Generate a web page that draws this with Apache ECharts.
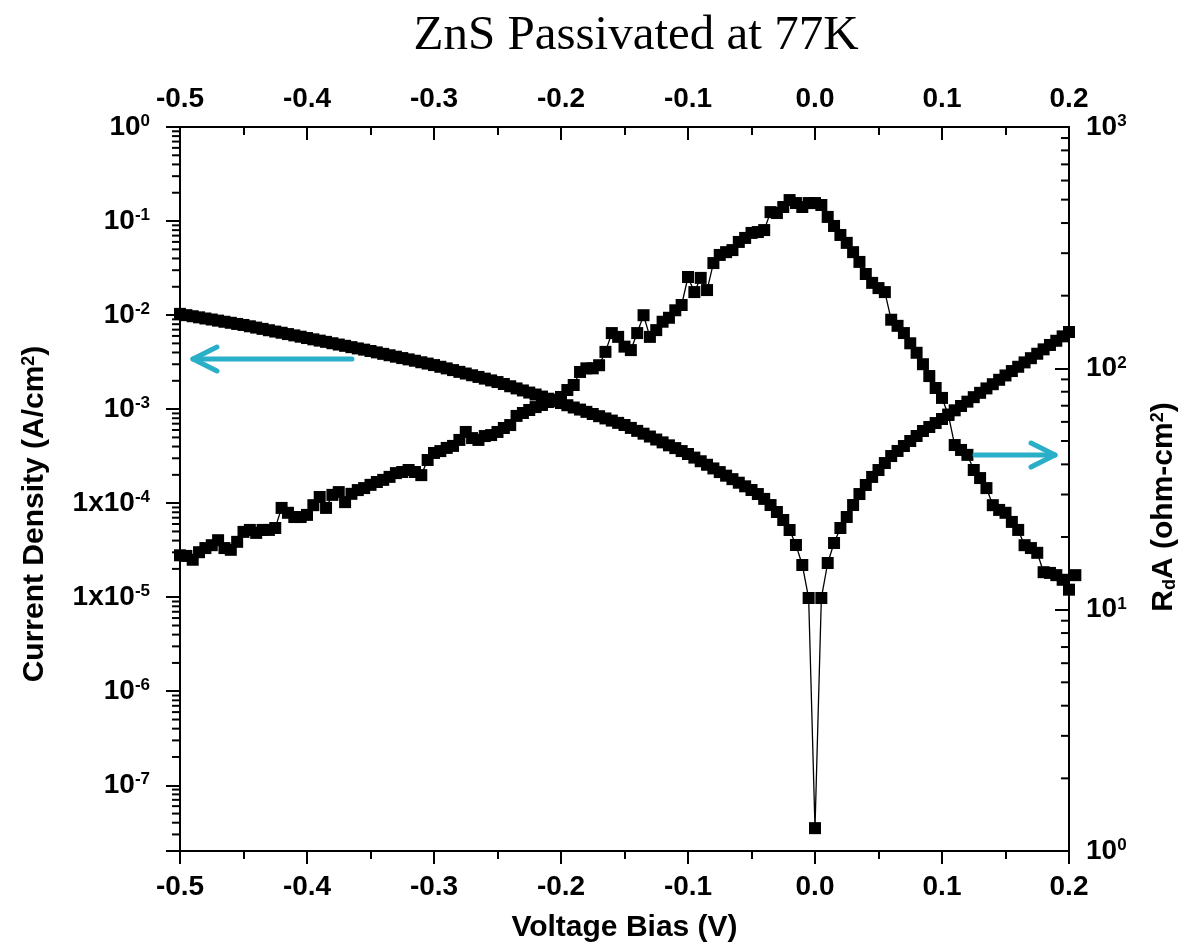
<!DOCTYPE html>
<html><head><meta charset="utf-8">
<script src="https://cdn.jsdelivr.net/npm/echarts@6/dist/echarts.min.js"></script>
<style>html,body{margin:0;padding:0;background:#fff}#chart{width:1180px;height:951px}</style>
</head><body><div id="chart"></div>
<script>
// Voltage bias (V), measurement grid
const voltage = [
-0.5,-0.495,-0.49,-0.485,-0.48,-0.475,-0.47,-0.465,-0.46,-0.455,
-0.45,-0.445,-0.44,-0.435,-0.43,-0.425,-0.42,-0.415,-0.41,-0.405,
-0.4,-0.395,-0.39,-0.385,-0.38,-0.375,-0.37,-0.365,-0.36,-0.355,
-0.35,-0.345,-0.34,-0.335,-0.33,-0.325,-0.32,-0.315,-0.31,-0.305,
-0.3,-0.295,-0.29,-0.285,-0.28,-0.275,-0.27,-0.265,-0.26,-0.255,
-0.25,-0.245,-0.24,-0.235,-0.23,-0.225,-0.22,-0.215,-0.21,-0.205,
-0.2,-0.195,-0.19,-0.185,-0.18,-0.175,-0.17,-0.165,-0.16,-0.155,
-0.15,-0.145,-0.14,-0.135,-0.13,-0.125,-0.12,-0.115,-0.11,-0.105,
-0.1,-0.095,-0.09,-0.085,-0.08,-0.075,-0.07,-0.065,-0.06,-0.055,
-0.05,-0.045,-0.04,-0.035,-0.03,-0.025,-0.02,-0.015,-0.01,-0.005,
0,0.005,0.01,0.015,0.02,0.025,0.03,0.035,0.04,0.045,
0.05,0.055,0.06,0.065,0.07,0.075,0.08,0.085,0.09,0.095,
0.1,0.105,0.11,0.115,0.12,0.125,0.13,0.135,0.14,0.145,
0.15,0.155,0.16,0.165,0.17,0.175,0.18,0.185,0.19,0.195,
0.2];

// Current density (A/cm^2), left axis
const currentDensity = [
1.03e-2,9.98e-3,9.72e-3,9.46e-3,9.20e-3,8.97e-3,8.73e-3,8.49e-3,8.28e-3,8.05e-3,
7.85e-3,7.60e-3,7.36e-3,7.13e-3,6.90e-3,6.68e-3,6.49e-3,6.28e-3,6.08e-3,5.89e-3,
5.70e-3,5.52e-3,5.35e-3,5.19e-3,5.02e-3,4.86e-3,4.71e-3,4.56e-3,4.42e-3,4.29e-3,
4.15e-3,4.01e-3,3.87e-3,3.74e-3,3.61e-3,3.49e-3,3.38e-3,3.27e-3,3.15e-3,3.05e-3,
2.94e-3,2.82e-3,2.71e-3,2.60e-3,2.49e-3,2.39e-3,2.29e-3,2.20e-3,2.11e-3,2.02e-3,
1.94e-3,1.85e-3,1.75e-3,1.66e-3,1.58e-3,1.50e-3,1.43e-3,1.36e-3,1.29e-3,1.22e-3,
1.16e-3,1.10e-3,1.04e-3,9.89e-4,9.35e-4,8.87e-4,8.41e-4,7.96e-4,7.55e-4,7.14e-4,
6.78e-4,6.31e-4,5.87e-4,5.48e-4,5.11e-4,4.75e-4,4.43e-4,4.12e-4,3.85e-4,3.58e-4,
3.33e-4,3.05e-4,2.79e-4,2.56e-4,2.34e-4,2.14e-4,1.96e-4,1.80e-4,1.65e-4,1.51e-4,
1.38e-4,1.25e-4,1.11e-4,9.55e-5,8.05e-5,6.62e-5,5.18e-5,3.59e-5,2.20e-5,9.8e-6,
3.5e-8,9.8e-6,2.31e-5,3.77e-5,5.44e-5,7.13e-5,9.55e-5,1.25e-4,1.56e-4,1.90e-4,
2.25e-4,2.67e-4,3.17e-4,3.59e-4,4.05e-4,4.58e-4,5.18e-4,5.85e-4,6.45e-4,7.11e-4,
7.85e-4,8.75e-4,9.71e-4,1.08e-3,1.20e-3,1.34e-3,1.49e-3,1.66e-3,1.84e-3,2.05e-3,
2.28e-3,2.54e-3,2.82e-3,3.14e-3,3.48e-3,3.88e-3,4.32e-3,4.81e-3,5.33e-3,5.94e-3,
6.61e-3];

// RdA (ohm-cm^2), right axis (one extra point at 0.205 V)
const rdaVoltage = voltage.concat([0.205]);
const rdaValues = [
16.8,16.7,16.1,17.3,18.0,18.5,19.4,18.0,17.7,19.1,
21.0,21.4,20.8,21.4,21.4,21.8,26.4,25.2,24.2,24.2,
24.7,27.1,29.3,26.4,29.9,30.7,27.9,30.2,31.3,31.9,
32.9,33.8,34.5,35.5,36.8,37.2,37.9,37.2,36.1,41.7,
44.6,45.4,46.8,47.7,50.5,54.5,51.4,50.5,52.4,52.9,
54.5,56.6,58.2,63.5,65.3,67.2,69.1,70.5,72.5,73.9,
76.1,81.3,85.3,96.6,100,100,103,117,140,135,
123,119,140,166,135,144,156,162,174,183,
239,207,237,211,273,295,303,309,334,347,
364,367,374,444,440,466,498,484,466,484,
484,475,424,389,357,331,303,276,246,226,
215,207,159,150,140,127,116,104,92.9,82.9,
75.4,64.1,48.1,45.9,43.8,37.9,35.1,31.9,27.1,25.9,
25.2,23.1,21.4,18.5,18.0,17.2,14.3,14.2,13.9,13.3,
12.1,13.9];

// Tick labels
const leftTickLabels = ['10^0','10^-1','10^-2','10^-3','1x10^-4','1x10^-5','10^-6','10^-7'];
const rightTickLabels = ['10^0','10^1','10^2','10^3'];

// Annotation arrows [xStart, yStart, xTip, yTip] in data units
const leftArrow = [[-0.3646, 3.41e-3, -0.4898, 3.41e-3]];
const rightArrow = [[0.126, 43.7, 0.189, 43.7]];

const FONT = "'Liberation Sans', Arial, Helvetica, sans-serif";
const ARROW_COLOR = '#29AFC7';

function supLabel(s) {
  const parts = s.split('^');
  return '{b|' + parts[0] + '}{s|' + parts[1] + '}';
}
function logLabel(labels, sign) {
  return function (v) {
    const e = Math.log10(v);
    const r = Math.round(e);
    if (Math.abs(e - r) > 1e-6) return '';
    const lbl = labels[sign * r];
    return lbl ? supLabel(lbl) : '';
  };
}
const labelRich = {
  b: { fontSize: 28, fontWeight: 'bold', fontFamily: FONT, color: '#000' },
  s: { fontSize: 17, fontWeight: 'bold', fontFamily: FONT, color: '#000', verticalAlign: 'top' }
};
const nameRich = {
  a: { fontSize: 30, fontWeight: 'bold', fontFamily: FONT, color: '#000' },
  s: { fontSize: 18, fontWeight: 'bold', fontFamily: FONT, color: '#000', verticalAlign: 'top' },
  d: { fontSize: 18, fontWeight: 'bold', fontFamily: FONT, color: '#000', verticalAlign: 'bottom' }
};

function xAxisCfg(pos) {
  const top = pos === 'top';
  return {
    type: 'value', position: pos, min: -0.5, max: 0.2, interval: 0.1,
    axisLine: { show: true, onZero: false, lineStyle: { color: '#000', width: 2 } },
    axisTick: { show: true, inside: top, length: 13, lineStyle: { color: '#000', width: 2 } },
    minorTick: { show: true, splitNumber: 2, length: 8, lineStyle: { color: '#000', width: 2 } },
    splitLine: { show: false },
    axisLabel: {
      show: true, margin: top ? 14 : 22,
      formatter: v => v.toFixed(1),
      fontSize: 28, fontWeight: 'bold', fontFamily: FONT, color: '#000'
    }
  };
}

function minorTicks(yAxisIndex, xVal, minV, maxV) {
  return {
    type: 'custom', xAxisIndex: 0, yAxisIndex: yAxisIndex, silent: true, clip: false,
    data: [[xVal, maxV]],
    renderItem: function (params, api) {
      const children = [];
      for (let k = -9; k <= 3; k++) {
        for (let m = 2; m <= 9; m++) {
          const v = m * Math.pow(10, k);
          if (v <= minV * 1.0001 || v >= maxV * 0.9999) continue;
          const p = api.coord([xVal, v]);
          children.push({ type: 'line', shape: { x1: p[0] - 8, y1: p[1], x2: p[0], y2: p[1] },
            style: { stroke: '#000', lineWidth: 2 } });
        }
      }
      return { type: 'group', children: children };
    }
  };
}

function arrowSeries(yAxisIndex, data) {
  return {
    type: 'custom', xAxisIndex: 0, yAxisIndex: yAxisIndex, silent: true, clip: false,
    data: data, z: 10,
    renderItem: function (params, api) {
      const a = api.coord([api.value(0), api.value(1)]);
      const b = api.coord([api.value(2), api.value(3)]);
      const dx = b[0] - a[0], dy = b[1] - a[1];
      const len = Math.sqrt(dx * dx + dy * dy);
      const ux = dx / len, uy = dy / len;
      const back = 24, half = 12;
      const p1 = [b[0] - ux * back - uy * half, b[1] - uy * back + ux * half];
      const p2 = [b[0] - ux * back + uy * half, b[1] - uy * back - ux * half];
      const st = { stroke: ARROW_COLOR, lineWidth: 5, fill: null, lineCap: 'round', lineJoin: 'round' };
      return { type: 'group', children: [
        { type: 'line', shape: { x1: a[0], y1: a[1], x2: b[0], y2: b[1] }, style: st },
        { type: 'polyline', shape: { points: [p1, b, p2] }, style: st }
      ] };
    }
  };
}

const chart = echarts.init(document.getElementById('chart'), null, { renderer: 'canvas' });
chart.setOption({
  animation: false,
  backgroundColor: '#fff',
  title: {
    text: 'ZnS Passivated at 77K', left: 631, top: 7, textAlign: 'center',
    textStyle: { fontFamily: "'Liberation Serif', 'DejaVu Serif', serif", fontWeight: 'normal', fontSize: 49, color: '#000' }
  },
  grid: { left: 180, right: 111, top: 127, bottom: 100, containLabel: false, outerBoundsMode: 'none' },
  xAxis: [
    Object.assign(xAxisCfg('bottom'), {
      name: 'Voltage Bias (V)', nameLocation: 'middle', nameGap: 62,
      nameTextStyle: { fontSize: 30, fontWeight: 'bold', fontFamily: FONT, color: '#000' }
    }),
    xAxisCfg('top')
  ],
  yAxis: [
    {
      type: 'log', logBase: 10, position: 'left', min: 2e-8, max: 1, splitNumber: 8,
      axisLine: { show: true, onZero: false, lineStyle: { color: '#000', width: 2 } },
      axisTick: { show: true, inside: false, length: 14, lineStyle: { color: '#000', width: 2 } },
      minorTick: { show: false }, splitLine: { show: false },
      axisLabel: { margin: 30, formatter: logLabel(leftTickLabels, -1), rich: labelRich },
      name: '{a|Current Density (A/cm}{s|2}{a|)}', nameLocation: 'middle', nameGap: 130, nameRotate: 90,
      nameTextStyle: { rich: nameRich, padding: [0, 50, 0, 0] }
    },
    {
      type: 'log', logBase: 10, position: 'right', min: 1, max: 1000, splitNumber: 3,
      axisLine: { show: true, onZero: false, lineStyle: { color: '#000', width: 2 } },
      axisTick: { show: true, inside: true, length: 14, lineStyle: { color: '#000', width: 2 } },
      minorTick: { show: false }, splitLine: { show: false },
      axisLabel: { margin: 17, formatter: logLabel(rightTickLabels, 1), rich: labelRich },
      name: '{a|R}{d|d}{a|A (ohm-cm}{s|2}{a|)}', nameLocation: 'middle', nameGap: 80, nameRotate: 90,
      nameTextStyle: { rich: nameRich, padding: [0, 36, 0, 0] }
    }
  ],
  series: [
    {
      name: 'J', type: 'line', xAxisIndex: 0, yAxisIndex: 0, clip: false,
      data: voltage.map((v, i) => [v, currentDensity[i]]),
      symbol: 'rect', symbolSize: 12, showSymbol: true,
      itemStyle: { color: '#000' }, lineStyle: { color: '#000', width: 1.3 }
    },
    {
      name: 'RdA', type: 'line', xAxisIndex: 0, yAxisIndex: 1, clip: false,
      data: rdaVoltage.map((v, i) => [v, rdaValues[i]]),
      symbol: 'rect', symbolSize: 12, showSymbol: true,
      itemStyle: { color: '#000' }, lineStyle: { color: '#000', width: 1.3 }
    },
    minorTicks(0, -0.5, 2e-8, 1),
    minorTicks(1, 0.2, 1, 1000),
    arrowSeries(0, leftArrow),
    arrowSeries(1, rightArrow)
  ]
});
</script>
</body></html>
